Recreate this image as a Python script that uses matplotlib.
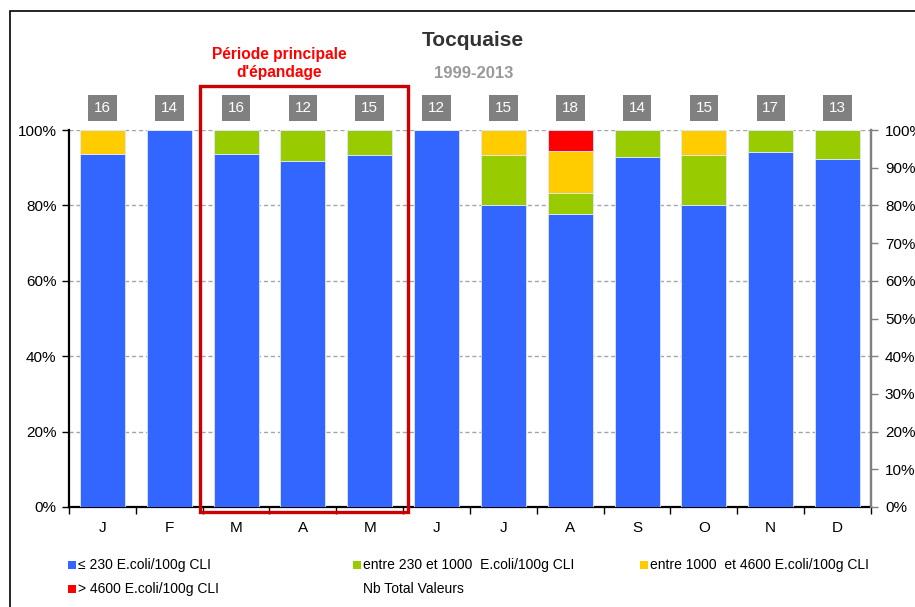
import matplotlib
matplotlib.use("Agg")

import numpy as np
import matplotlib.pyplot as plt
import matplotlib.patches as patches

plt.rcParams["font.family"] = ["Liberation Sans", "DejaVu Sans"]

# =======================
# Data (percent of samples per class, per month)
# =======================
months = ["J", "F", "M", "A", "M", "J", "J", "A", "S", "O", "N", "D"]
nb_total = [16, 14, 16, 12, 15, 12, 15, 18, 14, 15, 17, 13]
pct_le_230 = [93.75, 100.0, 93.75, 91.67, 93.33, 100.0, 80.0, 77.78, 92.86, 80.0, 94.12, 92.31]
pct_230_1000 = [0.0, 0.0, 6.25, 8.33, 6.67, 0.0, 13.33, 5.56, 7.14, 13.33, 5.88, 7.69]
pct_1000_4600 = [6.25, 0.0, 0.0, 0.0, 0.0, 0.0, 6.67, 11.11, 0.0, 6.67, 0.0, 0.0]
pct_gt_4600 = [0.0, 0.0, 0.0, 0.0, 0.0, 0.0, 0.0, 5.56, 0.0, 0.0, 0.0, 0.0]

series = [
    ("≤ 230 E.coli/100g CLI", pct_le_230, "#3366FF"),
    ("entre 230 et 1000  E.coli/100g CLI", pct_230_1000, "#99CC00"),
    ("entre 1000  et 4600 E.coli/100g CLI", pct_1000_4600, "#FFCC00"),
    ("> 4600 E.coli/100g CLI", pct_gt_4600, "#FF0000"),
]

W, H = 915, 607
fig = plt.figure(figsize=(W / 100, H / 100), dpi=100)


def fx(px):
    return px / W


def fy(py):
    return 1 - py / H


# plot area in pixel bounds
x0, x1, y_top, y_bot = 69, 871, 130, 507
ax = fig.add_axes([fx(x0), fy(y_bot), fx(x1) - fx(x0), fy(y_top) - fy(y_bot)])

x = np.arange(len(months))
bottom = np.zeros(len(months))
for label, vals, color in series:
    vals = np.array(vals)
    ax.bar(x, vals, width=0.675, bottom=bottom, color=color,
           edgecolor="#dfe7ff", linewidth=0.6, zorder=3)
    bottom += vals

ax.set_xlim(-0.5, len(months) - 0.5)
ax.set_ylim(0, 100)

# grid
for g in [20, 40, 60, 80, 100]:
    ax.axhline(g, color="#a6a6a6", lw=1.0, ls=(0, (3, 2)), zorder=1)

ax.set_yticks(np.arange(0, 101, 20))
ax.set_yticklabels([f"{v}%" for v in range(0, 101, 20)], fontsize=11)
ax.tick_params(axis="y", direction="out", length=5, width=1, colors="black", pad=4)

ax.set_xticks(np.arange(-0.5, len(months), 1.0))
ax.set_xticklabels([])
ax.set_xticks(x, minor=True)
ax.set_xticklabels(months, minor=True, fontsize=11)
ax.tick_params(axis="x", which="major", direction="out", length=5, width=1)
ax.tick_params(axis="x", which="minor", length=0, pad=10)

for s in ["left", "bottom"]:
    ax.spines[s].set_linewidth(1.6)
    ax.spines[s].set_color("black")
ax.spines["top"].set_visible(False)
ax.spines["right"].set_color("#808080")
ax.spines["right"].set_linewidth(1.6)

ax2 = ax.twinx()
ax2.set_ylim(0, 100)
ax2.set_yticks(np.arange(0, 101, 10))
ax2.set_yticklabels([f"{v}%" for v in range(0, 101, 10)], fontsize=11)
ax2.tick_params(axis="y", direction="out", length=5, width=1, color="#808080", pad=5)
for s in ["left", "bottom", "top"]:
    ax2.spines[s].set_visible(False)
ax2.spines["right"].set_color("#808080")
ax2.spines["right"].set_linewidth(1.6)

# sample counts above each bar
count_y = (y_bot - 108) / (y_bot - y_top) * 100
for xi, n in zip(x, nb_total):
    ax.text(xi, count_y, str(n), ha="center", va="center", fontsize=11, color="white",
            bbox=dict(boxstyle="square,pad=0.38", fc="#808080", ec="none"),
            clip_on=False, zorder=5)

# titles
fig.text(fx(473), fy(41), "Tocquaise", ha="center", va="center",
         fontsize=15, weight="bold", color="#333333")
fig.text(fx(474), fy(73), "1999-2013", ha="center", va="center",
         fontsize=12, weight="bold", color="#999999")

# highlighted spreading period
fig.text(fx(279), fy(54), "Période principale", ha="center", va="center",
         fontsize=11.2, weight="bold", color="#FF0000")
fig.text(fx(279), fy(72), "d'épandage", ha="center", va="center",
         fontsize=11.2, weight="bold", color="#FF0000")
fig.add_artist(patches.Rectangle((fx(200), fy(512)), fx(408) - fx(200), fy(86) - fy(512),
                                 transform=fig.transFigure, fill=False,
                                 edgecolor="#CC0000", lw=2.4, zorder=10))

# outer chart frame
fig.add_artist(patches.Rectangle((fx(9.5), fy(640)), fx(960), fy(10.5) - fy(640),
                                 transform=fig.transFigure, fill=False,
                                 edgecolor="black", lw=1.2, clip_on=False))

# legend
legend_items = [
    (68, 565, series[0][0], series[0][2]),
    (353, 565, series[1][0], series[1][2]),
    (640, 565, series[2][0], series[2][2]),
    (68, 589, series[3][0], series[3][2]),
    (353, 589, "Nb Total Valeurs", None),
]
for lx, ly, text, color in legend_items:
    if color is not None:
        fig.add_artist(patches.Rectangle((fx(lx), fy(ly + 4)), fx(8), fy(0) - fy(8),
                                         transform=fig.transFigure, facecolor=color,
                                         edgecolor="none"))
    fig.text(fx(lx + 10), fy(ly), text, ha="left", va="center", fontsize=10, color="black")

fig.savefig("out.png", dpi=100)
plt.close(fig)
